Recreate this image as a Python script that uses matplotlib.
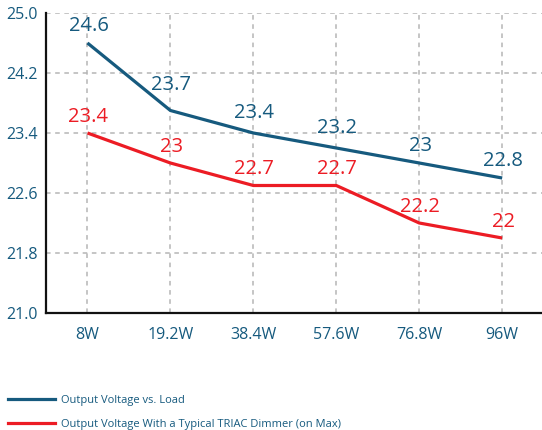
import matplotlib
matplotlib.use('Agg')
import matplotlib.pyplot as plt
from matplotlib.lines import Line2D

loads = ['8W', '19.2W', '38.4W', '57.6W', '76.8W', '96W']
voltage_load = [24.6, 23.7, 23.4, 23.2, 23.0, 22.8]
voltage_triac = [23.4, 23.0, 22.7, 22.7, 22.2, 22.0]
label_load = ['24.6', '23.7', '23.4', '23.2', '23', '22.8']
label_triac = ['23.4', '23', '22.7', '22.7', '22.2', '22']
yticks = [21.0, 21.8, 22.6, 23.4, 24.2, 25.0]

BLUE = '#165a7e'
RED = '#ec1c24'
GRID = '#b5b5b5'

plt.rcParams['font.family'] = ['Open Sans', 'DejaVu Sans']

fig = plt.figure(figsize=(5.42, 4.30), dpi=100)
ax = fig.add_axes([46 / 542, 117 / 430, 1 - 46 / 542, 300 / 430])

x = range(len(loads))
ax.plot(x, voltage_load, color=BLUE, lw=2.3, solid_capstyle='butt', zorder=3)
ax.plot(x, voltage_triac, color=RED, lw=2.3, solid_capstyle='butt', zorder=3)

# label offsets in pixels (the 19.2W blue label sits a little higher)
blue_dy = [17, 25, 20, 20, 17, 17]
for i, (v, t) in enumerate(zip(voltage_load, label_load)):
    ax.annotate(t, (i, v), xytext=(1, blue_dy[i]), textcoords='offset pixels',
                ha='center', va='center', color=BLUE, fontsize=14.5)
for i, (v, t) in enumerate(zip(voltage_triac, label_triac)):
    ax.annotate(t, (i, v), xytext=(1, 16), textcoords='offset pixels',
                ha='center', va='center', color=RED, fontsize=14.5)

ax.set_xlim(-0.5, 5.48)
ax.set_ylim(21.0, 25.0)
ax.set_xticks(list(x))
ax.set_xticklabels(loads)
ax.set_yticks(yticks)
ax.set_yticklabels([f'{v:.1f}' for v in yticks])
ax.tick_params(axis='both', length=0, colors=BLUE, labelsize=11.5)
ax.tick_params(axis='x', pad=10)
ax.tick_params(axis='y', pad=6)

ax.grid(True, color=GRID, lw=1.1, linestyle=(0, (3, 3)), zorder=0)
ax.set_axisbelow(True)
for side in ['top', 'right']:
    ax.spines[side].set_visible(False)
for side in ['left', 'bottom']:
    ax.spines[side].set_color('#111111')
    ax.spines[side].set_linewidth(1.6)

handles = [Line2D([], [], color=BLUE, lw=2.3),
           Line2D([], [], color=RED, lw=2.3)]
fig.legend(handles, ['Output Voltage vs. Load',
                     'Output Voltage With a Typical TRIAC Dimmer (on Max)'],
           loc='upper left', bbox_to_anchor=(5 / 542, 38 / 430), frameon=False,
           fontsize=8, labelcolor=BLUE, handlelength=4.2, handletextpad=0.5,
           labelspacing=1.15, borderaxespad=0, borderpad=0.3)

fig.savefig('out.png', dpi=100)
